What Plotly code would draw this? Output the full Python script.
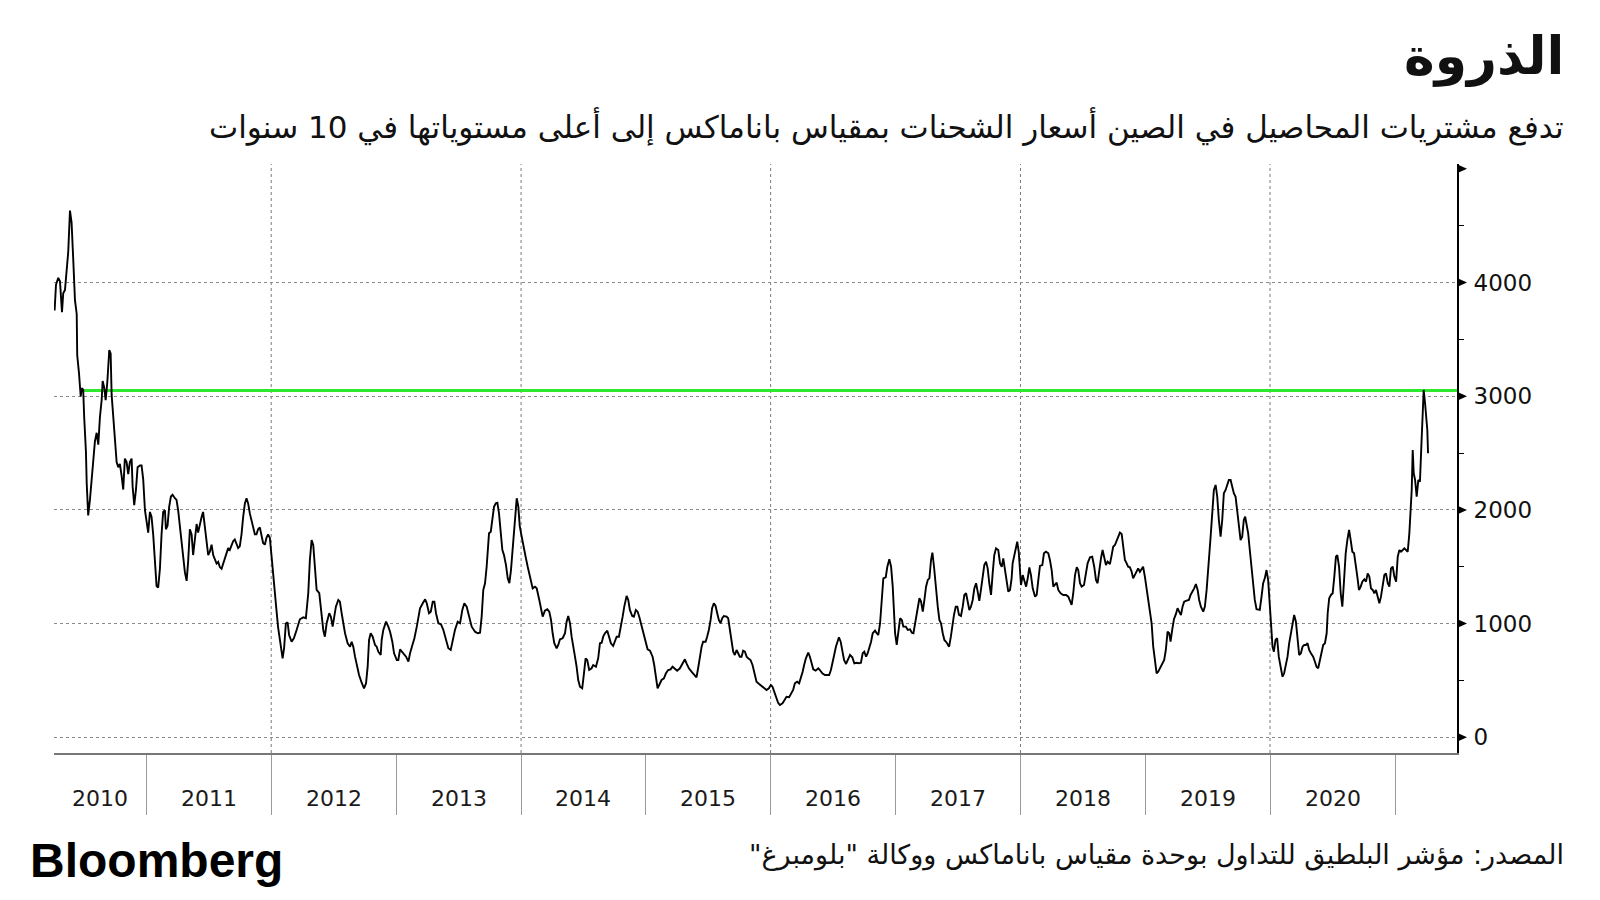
import pandas as pd
import plotly.graph_objects as go

# ---------------- data ----------------
# time of each reading as a decimal year, and Baltic Panamax index value
TIME = [
 2010.264,2010.275,2010.293,2010.307,2010.323,2010.333,2010.347,2010.360,2010.373,2010.387,
 2010.400,2010.413,2010.427,2010.441,2010.445,2010.459,2010.473,2010.481,2010.493,2010.501,
 2010.515,2010.521,2010.533,2010.547,2010.561,2010.573,2010.587,2010.601,2010.614,2010.627,
 2010.641,2010.649,2010.662,2010.673,2010.686,2010.702,2010.713,2010.721,2010.734,2010.753,
 2010.761,2010.774,2010.787,2010.801,2010.814,2010.827,2010.841,2010.854,2010.867,2010.881,
 2010.889,2010.902,2010.916,2010.929,2010.948,2010.961,2010.974,2010.988,2011.001,2011.014,
 2011.028,2011.041,2011.054,2011.068,2011.081,2011.094,2011.108,2011.121,2011.134,2011.148,
 2011.156,2011.169,2011.182,2011.196,2011.209,2011.228,2011.241,2011.254,2011.268,2011.282,
 2011.294,2011.308,2011.322,2011.334,2011.348,2011.362,2011.374,2011.388,2011.402,2011.414,
 2011.428,2011.442,2011.454,2011.468,2011.482,2011.495,2011.508,2011.522,2011.535,2011.548,
 2011.562,2011.575,2011.588,2011.602,2011.615,2011.628,2011.642,2011.655,2011.668,2011.682,
 2011.695,2011.708,2011.722,2011.735,2011.748,2011.762,2011.775,2011.789,2011.802,2011.815,
 2011.829,2011.842,2011.855,2011.869,2011.882,2011.895,2011.909,2011.922,2011.935,2011.949,
 2011.962,2011.975,2011.989,2012.002,2012.015,2012.029,2012.042,2012.055,2012.069,2012.083,
 2012.091,2012.103,2012.117,2012.131,2012.143,2012.163,2012.181,2012.203,2012.229,2012.256,
 2012.277,2012.296,2012.309,2012.323,2012.336,2012.349,2012.363,2012.384,2012.403,2012.416,
 2012.429,2012.443,2012.464,2012.477,2012.491,2012.504,2012.517,2012.536,2012.549,2012.563,
 2012.576,2012.590,2012.611,2012.630,2012.643,2012.656,2012.670,2012.683,2012.702,2012.723,
 2012.742,2012.758,2012.771,2012.782,2012.795,2012.811,2012.830,2012.843,2012.856,2012.875,
 2012.883,2012.896,2012.918,2012.936,2012.950,2012.968,2012.982,2013.004,2013.016,2013.030,
 2013.044,2013.062,2013.078,2013.097,2013.110,2013.129,2013.145,2013.164,2013.177,2013.190,
 2013.212,2013.231,2013.244,2013.262,2013.276,2013.292,2013.305,2013.318,2013.337,2013.358,
 2013.377,2013.398,2013.417,2013.436,2013.452,2013.470,2013.492,2013.511,2013.529,2013.545,
 2013.564,2013.583,2013.604,2013.631,2013.652,2013.671,2013.684,2013.697,2013.711,2013.724,
 2013.743,2013.757,2013.770,2013.783,2013.797,2013.810,2013.823,2013.837,2013.850,2013.863,
 2013.879,2013.893,2013.906,2013.919,2013.933,2013.946,2013.965,2013.978,2013.989,2014.005,
 2014.023,2014.039,2014.053,2014.066,2014.079,2014.093,2014.111,2014.125,2014.146,2014.159,
 2014.173,2014.191,2014.210,2014.226,2014.240,2014.253,2014.266,2014.285,2014.298,2014.312,
 2014.333,2014.352,2014.365,2014.378,2014.392,2014.405,2014.418,2014.432,2014.445,2014.458,
 2014.472,2014.490,2014.504,2014.517,2014.530,2014.546,2014.565,2014.578,2014.600,2014.618,
 2014.632,2014.646,2014.658,2014.672,2014.691,2014.704,2014.720,2014.738,2014.752,2014.766,
 2014.784,2014.798,2014.814,2014.827,2014.846,2014.859,2014.872,2014.891,2014.904,2014.920,
 2014.934,2014.947,2014.960,2014.974,2014.987,2015.000,2015.014,2015.033,2015.054,2015.067,
 2015.081,2015.094,2015.107,2015.126,2015.145,2015.161,2015.179,2015.198,2015.214,2015.233,
 2015.251,2015.273,2015.294,2015.313,2015.326,2015.345,2015.366,2015.387,2015.406,2015.419,
 2015.433,2015.447,2015.459,2015.479,2015.491,2015.505,2015.519,2015.531,2015.545,2015.559,
 2015.572,2015.585,2015.599,2015.612,2015.625,2015.647,2015.660,2015.674,2015.687,2015.700,
 2015.713,2015.727,2015.740,2015.753,2015.767,2015.780,2015.794,2015.808,2015.820,2015.839,
 2015.855,2015.868,2015.887,2015.908,2015.927,2015.946,2015.967,2015.986,2016.002,2016.015,
 2016.028,2016.047,2016.060,2016.074,2016.095,2016.108,2016.127,2016.148,2016.167,2016.180,
 2016.194,2016.212,2016.228,2016.242,2016.256,2016.268,2016.282,2016.301,2016.314,2016.328,
 2016.341,2016.360,2016.381,2016.394,2016.413,2016.434,2016.452,2016.468,2016.482,2016.496,
 2016.508,2016.522,2016.536,2016.546,2016.560,2016.573,2016.587,2016.603,2016.616,2016.635,
 2016.653,2016.669,2016.688,2016.706,2016.722,2016.736,2016.749,2016.763,2016.776,2016.789,
 2016.803,2016.816,2016.835,2016.848,2016.861,2016.875,2016.888,2016.901,2016.920,2016.933,
 2016.949,2016.963,2016.976,2016.987,2016.995,2017.008,2017.021,2017.035,2017.049,2017.061,
 2017.081,2017.097,2017.115,2017.129,2017.142,2017.161,2017.177,2017.190,2017.203,2017.217,
 2017.230,2017.243,2017.257,2017.270,2017.283,2017.294,2017.307,2017.321,2017.337,2017.350,
 2017.363,2017.377,2017.390,2017.409,2017.428,2017.442,2017.454,2017.467,2017.481,2017.494,
 2017.507,2017.523,2017.537,2017.550,2017.564,2017.577,2017.590,2017.603,2017.617,2017.630,
 2017.644,2017.657,2017.670,2017.683,2017.697,2017.710,2017.724,2017.737,2017.750,2017.764,
 2017.777,2017.790,2017.804,2017.822,2017.836,2017.850,2017.862,2017.876,2017.890,2017.902,
 2017.916,2017.929,2017.937,2017.950,2017.964,2017.974,2017.986,2017.996,2018.004,2018.018,
 2018.031,2018.045,2018.058,2018.071,2018.084,2018.098,2018.117,2018.130,2018.143,2018.156,
 2018.175,2018.188,2018.204,2018.223,2018.236,2018.250,2018.263,2018.276,2018.290,2018.303,
 2018.322,2018.343,2018.365,2018.383,2018.397,2018.410,2018.423,2018.437,2018.451,2018.463,
 2018.477,2018.490,2018.509,2018.525,2018.538,2018.557,2018.575,2018.591,2018.605,2018.618,
 2018.631,2018.645,2018.658,2018.671,2018.685,2018.698,2018.717,2018.731,2018.743,2018.757,
 2018.771,2018.783,2018.797,2018.811,2018.823,2018.837,2018.851,2018.863,2018.877,2018.891,
 2018.903,2018.916,2018.931,2018.943,2018.957,2018.971,2018.983,2018.997,2019.011,2019.024,
 2019.037,2019.051,2019.064,2019.077,2019.091,2019.104,2019.117,2019.136,2019.152,2019.165,
 2019.179,2019.192,2019.203,2019.216,2019.230,2019.246,2019.259,2019.272,2019.286,2019.299,
 2019.312,2019.331,2019.350,2019.363,2019.379,2019.392,2019.406,2019.420,2019.432,2019.446,
 2019.465,2019.478,2019.492,2019.505,2019.516,2019.524,2019.537,2019.550,2019.564,2019.577,
 2019.590,2019.604,2019.617,2019.630,2019.644,2019.657,2019.670,2019.684,2019.697,2019.710,
 2019.724,2019.737,2019.750,2019.764,2019.777,2019.790,2019.801,2019.811,2019.825,2019.838,
 2019.852,2019.865,2019.878,2019.892,2019.905,2019.918,2019.932,2019.945,2019.958,2019.972,
 2019.985,2019.998,2020.009,2020.020,2020.031,2020.044,2020.057,2020.070,2020.087,2020.100,
 2020.113,2020.127,2020.140,2020.153,2020.166,2020.180,2020.193,2020.207,2020.220,2020.233,
 2020.247,2020.260,2020.273,2020.287,2020.300,2020.313,2020.327,2020.345,2020.359,2020.372,
 2020.385,2020.399,2020.413,2020.425,2020.439,2020.453,2020.461,2020.473,2020.487,2020.501,
 2020.514,2020.527,2020.538,2020.552,2020.565,2020.578,2020.592,2020.605,2020.618,2020.632,
 2020.645,2020.658,2020.672,2020.685,2020.698,2020.711,2020.725,2020.738,2020.754,2020.767,
 2020.781,2020.794,2020.807,2020.821,2020.834,2020.847,2020.861,2020.874,2020.887,2020.901,
 2020.914,2020.927,2020.941,2020.954,2020.967,2020.981,2020.994,2021.008,2021.021,2021.034,
 2021.047,2021.061,2021.074,2021.088,2021.101,2021.114,2021.125,2021.133,2021.141,2021.149,
 2021.160,2021.173,2021.186,2021.199,2021.210,2021.218,2021.229,2021.240,2021.248,2021.258,
 2021.264,
]
VALUE = [
 3754,3981,4041,4010,3739,3905,3935,4117,4268,4632,
 4526,4208,3844,3723,3360,3208,2997,3072,3057,2814,
 2512,2239,1952,2088,2300,2451,2602,2678,2573,2814,
 2966,3133,3072,2966,3118,3405,3375,3011,2814,2573,
 2421,2375,2405,2300,2179,2451,2421,2315,2421,2451,
 2209,2042,2179,2375,2390,2390,2269,1997,1906,1800,
 1982,1937,1785,1543,1331,1316,1482,1785,1982,1997,
 1830,1861,2027,2118,2133,2103,2088,1997,1845,1694,
 1543,1452,1376,1543,1830,1785,1603,1755,1876,1800,
 1876,1937,1982,1861,1755,1603,1633,1694,1603,1558,
 1528,1543,1497,1482,1528,1588,1633,1664,1648,1694,
 1725,1740,1694,1664,1679,1785,1937,2057,2103,2057,
 1967,1906,1830,1785,1785,1830,1845,1785,1709,1694,
 1755,1785,1755,1603,1422,1270,1119,967,876,755,
 695,785,1000,1012,900,841,871,944,1038,1055,
 1047,1267,1559,1735,1691,1500,1296,1267,1091,944,
 885,1003,1091,1061,973,1061,1149,1208,1193,1091,
 1003,915,827,797,841,797,709,636,548,480,
 431,475,621,856,915,885,812,797,753,724,
 856,944,1017,973,929,841,739,680,680,774,
 753,724,709,665,739,812,871,973,1076,1135,
 1179,1214,1179,1091,1105,1193,1193,1091,1003,994,
 944,856,783,768,856,944,1017,1003,1120,1179,
 1149,1061,973,929,915,920,1061,1296,1355,1500,
 1794,1808,1940,2028,2058,2063,1970,1794,1647,1603,
 1515,1398,1355,1471,1676,1852,2102,2028,1860,1764,
 1647,1574,1500,1442,1368,1310,1325,1310,1208,1135,
 1061,1114,1126,1105,1032,915,827,783,812,862,
 871,915,1017,1067,1003,885,783,709,621,504,
 445,431,563,695,680,592,607,636,621,695,
 827,832,885,915,938,885,827,803,856,885,
 885,959,1061,1149,1243,1208,1120,1067,1061,1120,
 1105,1061,1003,944,885,827,774,762,709,636,
 533,431,460,504,519,563,592,598,621,607,
 586,607,651,686,651,607,577,548,528,607,
 709,797,841,841,885,944,1032,1135,1179,1155,
 1091,1032,1003,1047,1067,1061,1047,944,827,753,
 724,768,739,709,709,762,753,709,695,680,
 636,563,489,469,451,431,416,431,460,445,
 401,343,304,284,299,322,357,352,387,416,
 475,489,475,519,577,636,695,744,709,651,
 598,586,607,592,563,548,548,548,592,651,
 724,797,841,880,841,753,680,645,680,724,
 704,651,656,651,656,739,753,709,739,783,
 841,915,938,915,900,1003,1208,1398,1407,1500,
 1566,1500,1325,1091,915,812,944,1047,1032,973,
 973,944,950,920,915,1032,1149,1223,1193,1105,
 1208,1325,1384,1398,1559,1624,1500,1296,1149,1032,
 1003,915,856,832,797,885,988,1076,1149,1149,
 1076,1067,1149,1252,1267,1179,1120,1149,1208,1310,
 1355,1281,1200,1296,1413,1515,1545,1486,1355,1252,
 1442,1603,1662,1647,1530,1500,1574,1471,1339,1281,
 1296,1398,1530,1588,1676,1720,1632,1471,1339,1427,
 1384,1325,1398,1495,1427,1310,1237,1252,1384,1507,
 1515,1618,1632,1618,1559,1471,1325,1339,1360,1296,
 1267,1252,1252,1237,1193,1164,1267,1427,1495,1471,
 1355,1325,1339,1442,1530,1583,1588,1500,1384,1355,
 1471,1574,1647,1588,1515,1545,1524,1603,1676,1691,
 1735,1764,1800,1788,1691,1559,1530,1500,1495,1456,
 1398,1427,1471,1486,1456,1486,1500,1413,1296,1208,
 1120,1003,797,665,563,577,607,645,680,768,
 929,915,841,944,1038,1085,1135,1105,1076,1149,
 1193,1202,1208,1252,1281,1310,1348,1296,1208,1149,
 1105,1149,1296,1530,1700,1764,1970,2175,2219,2116,
 1911,1764,1911,2146,2175,2219,2263,2263,2204,2146,
 2116,1999,1852,1735,1764,1911,1940,1882,1794,1647,
 1500,1355,1208,1126,1120,1120,1237,1355,1398,1471,
 1384,1149,915,797,753,856,871,709,607,533,
 563,636,709,827,915,1003,1076,1017,885,724,
 739,797,812,812,827,768,739,709,665,621,
 607,680,768,812,827,915,1091,1223,1252,1267,
 1413,1588,1603,1500,1267,1149,1384,1618,1735,1823,
 1735,1632,1618,1530,1413,1296,1325,1369,1390,1369,
 1442,1413,1310,1296,1267,1296,1223,1179,1237,1355,
 1427,1442,1355,1325,1486,1500,1413,1369,1588,1647,
 1632,1647,1662,1647,1632,1794,1970,2175,2527,2322,
 2263,2116,2263,2248,2556,2850,3055,2938,2820,2703,
 2498,
]

# reference level drawn in green, and where it starts
LEVEL_VALUE = 3050
LEVEL_START = 2010.491

# axes
X_RANGE = (2010.259, 2021.496)
Y_RANGE = (-138, 5042)
Y_TICKS = [0, 1000, 2000, 3000, 4000]
Y_TICK_TEXT = ["0", "1000", "2000", "3000", "4000"]
Y_MINOR = [500, 1500, 2500, 3500, 4500]
Y_ARROWS = [0, 1000, 2000, 3000, 4000, 5000]
YEAR_LABELS = [2010, 2011, 2012, 2013, 2014, 2015, 2016, 2017, 2018, 2019, 2020]
YEAR_TICKS = [2011, 2012, 2013, 2014, 2015, 2016, 2017, 2018, 2019, 2020, 2021]
GRID_YEARS = [2012, 2014, 2016, 2018, 2020]

RLM = "\u200f"
TITLE = "الذروة"
SUBTITLE = "تدفع مشتريات المحاصيل في الصين أسعار الشحنات بمقياس باناماكس إلى أعلى مستوياتها في 10 سنوات"
SOURCE = "المصدر: مؤشر البلطيق للتداول بوحدة مقياس باناماكس ووكالة \"بلومبرغ\""
LOGO = "Bloomberg"


def to_date(t):
    y = int(t)
    start = pd.Timestamp(year=y, month=1, day=1)
    end = pd.Timestamp(year=y + 1, month=1, day=1)
    return start + (t - y) * (end - start)


dates = [to_date(t) for t in TIME]
x0, x1 = to_date(X_RANGE[0]), to_date(X_RANGE[1])
# data units per pixel on the value axis (plot area is 589 px tall)
px_val = (Y_RANGE[1] - Y_RANGE[0]) / 589

fig = go.Figure()

# green reference level
fig.add_trace(go.Scatter(
    x=[to_date(LEVEL_START), x1], y=[LEVEL_VALUE, LEVEL_VALUE],
    mode="lines", line=dict(color="#2ee82e", width=3),
    hoverinfo="skip", showlegend=False))

# index line
fig.add_trace(go.Scatter(
    x=dates, y=VALUE, mode="lines",
    line=dict(color="#000000", width=1.9),
    showlegend=False))

# arrow-shaped tick marks on the right axis (width in pixels, placed at tick values)
for v in Y_ARROWS:
    h = 4.5 * px_val
    fig.add_shape(type="path", xref="paper", yref="y",
                  xsizemode="pixel", xanchor=1,
                  path=f"M 0,{v + h} L 10,{v} L 0,{v - h} Z",
                  fillcolor="#000000", line=dict(width=0), layer="above")

# vertical dotted grid every two years
for gy in GRID_YEARS:
    fig.add_shape(type="line", xref="x", yref="paper",
                  x0=to_date(gy), x1=to_date(gy), y0=0, y1=1,
                  line=dict(color="#7a7a7a", width=1, dash="dot"), layer="below")

# year labels centred on the visible part of each year
for yr in YEAR_LABELS:
    a = max(pd.Timestamp(year=yr, month=1, day=1), x0)
    b = min(pd.Timestamp(year=yr + 1, month=1, day=1), x1)
    fig.add_annotation(x=a + (b - a) / 2, y=-0.078, xref="x", yref="paper",
                       text=str(yr), showarrow=False, xanchor="center", yanchor="middle",
                       font=dict(family="DejaVu Sans", size=22, color="#1a1a1a"))

# titles and footer
RIGHT = (1566 - 54) / 1403
fig.add_annotation(xref="paper", yref="paper", x=RIGHT, y=(753 - 56) / 589,
                   text="<b>" + TITLE + "</b>", showarrow=False,
                   xanchor="right", yanchor="middle",
                   font=dict(family="DejaVu Sans", size=52, color="#111111"))
fig.add_annotation(xref="paper", yref="paper", x=RIGHT, y=(753 - 127) / 589,
                   text=RLM + SUBTITLE + RLM, showarrow=False, xanchor="right", yanchor="middle",
                   font=dict(family="DejaVu Sans", size=31, color="#111111"))
fig.add_annotation(xref="paper", yref="paper", x=RIGHT, y=(753 - 855) / 589,
                   text=RLM + SOURCE + RLM, showarrow=False, xanchor="right", yanchor="middle",
                   font=dict(family="DejaVu Sans", size=27, color="#111111"))
fig.add_annotation(xref="paper", yref="paper", x=(28 - 54) / 1403, y=(753 - 860) / 589,
                   text="<b>" + LOGO + "</b>", showarrow=False, xanchor="left", yanchor="middle",
                   font=dict(family="Liberation Sans", size=48, color="#000000"))

fig.update_layout(
    width=1600, height=900,
    margin=dict(l=54, r=143, t=164, b=147),
    paper_bgcolor="#ffffff", plot_bgcolor="#ffffff",
    xaxis=dict(
        type="date", range=[x0, x1],
        showgrid=False, zeroline=False,
        showline=True, linecolor="#777777", linewidth=2,
        tickmode="array", tickvals=[to_date(y) for y in YEAR_TICKS],
        ticks="outside", ticklen=60, tickwidth=1, tickcolor="#9a9a9a",
        showticklabels=False,
    ),
    yaxis=dict(
        side="right", range=list(Y_RANGE),
        tickmode="array", tickvals=Y_TICKS, ticktext=Y_TICK_TEXT,
        ticks="outside", ticklen=10, tickcolor="rgba(0,0,0,0)",
        tickfont=dict(family="DejaVu Sans", size=23, color="#111111"),
        showgrid=True, gridcolor="#8a8a8a", griddash="dot", gridwidth=1,
        zeroline=False,
        showline=True, linecolor="#000000", linewidth=2,
        minor=dict(tickmode="array", tickvals=Y_MINOR, ticks="outside",
                   ticklen=5, tickcolor="#000000", tickwidth=1, showgrid=False),
    ),
    showlegend=False,
)

fig.write_html("out.html")
